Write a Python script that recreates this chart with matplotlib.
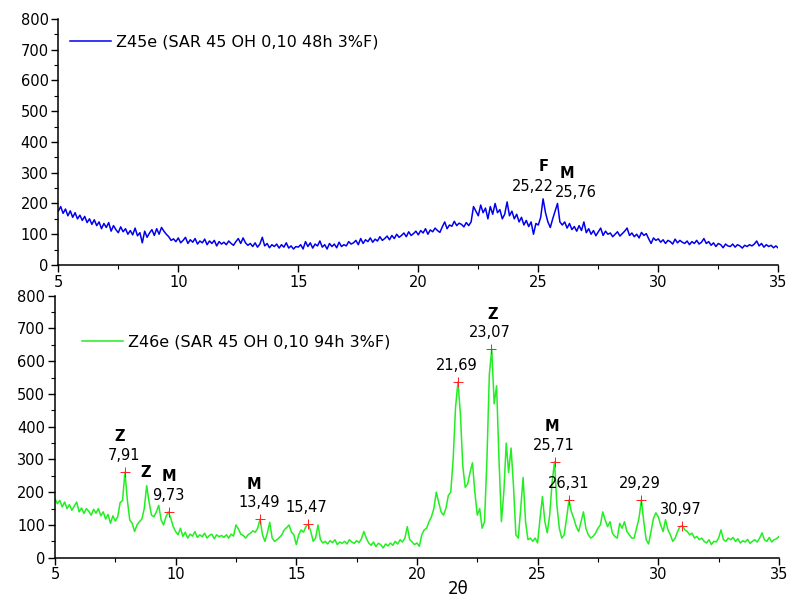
import matplotlib.pyplot as plt
import numpy as np
from matplotlib.ticker import MultipleLocator

# XRD patterns, 2theta from 5 to 35, step 0.1
two_theta = np.round(np.linspace(5, 35, 301), 1)

# Z45e (48h) - counts, one row per degree
z45e = [
    175, 190, 168, 182, 160, 176, 155, 170, 150, 162,
    145, 158, 138, 150, 132, 147, 128, 140, 118, 135,
    122, 138, 110, 128, 115, 105, 124, 108, 118, 100,
    112, 98, 120, 95, 105, 72, 110, 90, 104, 115,
    96, 118, 100, 122, 110, 100, 92, 80, 85, 76,
    88, 72, 80, 90, 70, 82, 74, 86, 68, 78,
    72, 84, 66, 78, 70, 80, 62, 76, 68, 74,
    66, 78, 70, 64, 76, 86, 70, 88, 72, 64,
    70, 60, 72, 58, 68, 90, 62, 70, 56, 66,
    60, 68, 55, 66, 58, 72, 55, 62, 52, 60,
    58, 66, 52, 76, 60, 72, 55, 68, 62, 78,
    58, 66, 52, 70, 60, 68, 56, 74, 60, 66,
    62, 76, 68, 72, 80, 66, 86, 70, 82, 76,
    88, 74, 84, 78, 92, 80, 86, 94, 82, 96,
    86, 100, 90, 96, 104, 92, 108, 96, 102, 110,
    98, 112, 104, 118, 100, 114, 108, 120, 112, 106,
    124, 140, 118, 130, 126, 142, 128, 136, 132, 124,
    138, 128, 140, 190, 175, 160, 195, 170, 185, 150,
    190, 165, 200, 170, 180, 150, 165, 205, 160, 175,
    150, 165, 140, 155, 130, 145, 125, 140, 100, 135,
    130, 155, 215, 170, 140, 122, 150, 175, 200, 140,
    130, 140, 120, 135, 115, 125, 110, 128, 112, 140,
    105, 118, 100, 112, 95, 108, 120, 96, 110, 100,
    104, 92, 100, 108, 94, 102, 110, 120, 96, 104,
    92, 100, 88, 106, 96, 102, 85, 70, 88, 80,
    85, 74, 82, 70, 80, 76, 68, 84, 72, 80,
    74, 70, 78, 66, 76, 70, 80, 68, 74, 86,
    70, 76, 64, 72, 60, 70, 66, 56, 68, 62,
    60, 68, 58, 66, 62, 55, 64, 60, 66, 62,
    68, 78, 62, 70, 58, 66, 60, 64, 56, 62,
    55,
]

# Z46e (94h) - counts, one row per degree
z46e = [
    180, 165, 175, 155, 170, 150, 162, 145, 158, 170,
    140, 152, 135, 150, 142, 130, 148, 136, 150, 128,
    140, 118, 132, 105, 128, 112, 125, 168, 175, 262,
    175, 115, 105, 80, 100, 110, 118, 150, 220, 170,
    130, 125, 140, 160, 115, 100, 125, 140, 120, 95,
    80, 70, 90, 65, 78, 60, 72, 66, 80, 62,
    70, 64, 75, 60, 68, 72, 58, 70, 64, 68,
    62, 70, 60, 72, 66, 100, 88, 72, 68, 60,
    70, 75, 82, 78, 90, 118, 70, 50, 75, 108,
    60, 50, 55, 62, 70, 85, 92, 100, 78, 70,
    40, 70, 85, 78, 95, 102, 80, 50, 60, 100,
    55, 45, 50, 42, 52, 46, 55, 40, 48, 44,
    50, 42, 55, 48, 44, 52, 46, 58, 80, 60,
    45, 38, 48, 34, 44, 40, 30, 42, 36, 45,
    38, 50, 42, 55, 48, 60, 95, 55, 48, 40,
    45, 35, 70, 85, 90, 110, 125, 150, 200, 170,
    140, 130, 150, 190, 200, 300, 460, 537, 440, 280,
    215, 225, 260, 290, 200, 130, 150, 90, 110, 300,
    560, 637, 470, 525, 300, 110, 200, 350, 260, 335,
    220, 70, 60, 150, 245, 110, 55, 60, 50, 60,
    45, 120, 187, 110, 76, 130, 230, 293, 160, 90,
    60, 70, 120, 177, 140, 120, 95, 80, 110, 140,
    90, 70, 60, 65, 75, 90, 100, 140, 115, 95,
    110, 75, 65, 60, 105, 90, 110, 80, 70, 60,
    60, 90, 120, 177, 110, 55, 42, 80, 120, 137,
    125, 100, 80, 116, 85, 70, 50, 60, 80, 95,
    98, 85, 80, 70, 75, 60, 65, 55, 60, 50,
    45, 55, 40, 50, 48, 60, 85, 55, 50, 60,
    55, 62, 50, 58, 45, 52, 48, 56, 44, 50,
    55, 48, 60, 76, 55, 50, 62, 48, 55, 58,
    65,
]

# marked peaks on Z46e
peak_pos = [7.91, 9.73, 13.49, 15.47, 21.69, 23.07, 25.71, 26.31, 29.29, 30.97]
peak_int = [262, 140, 118, 102, 537, 637, 293, 177, 177, 98]
peak_phase = ['Z', 'M', 'M', '', '', 'Z', 'M', '', '', '']

plt.rcParams['font.family'] = 'DejaVu Sans'

fig = plt.figure(figsize=(7.92, 6.01), dpi=100)
ax1 = fig.add_axes([0.0736, 0.5591, 0.9091, 0.4093])
ax2 = fig.add_axes([0.0694, 0.0720, 0.9141, 0.4359])

ax1.plot(two_theta, z45e, color='#0000ee', lw=1.1, label='Z45e (SAR 45 OH 0,10 48h 3%F)')
ax2.plot(two_theta, z46e, color='#22ee22', lw=1.1, label='Z46e (SAR 45 OH 0,10 94h 3%F)')
ax2.plot(peak_pos, peak_int, '+', color='#ff2020', ms=7, mew=0.7)

for ax in (ax1, ax2):
    ax.set_xlim(5, 35)
    ax.set_ylim(0, 800)
    ax.xaxis.set_major_locator(MultipleLocator(5))
    ax.xaxis.set_minor_locator(MultipleLocator(2.5))
    ax.yaxis.set_major_locator(MultipleLocator(100))
    ax.yaxis.set_minor_locator(MultipleLocator(50))
    ax.spines['top'].set_visible(False)
    ax.spines['right'].set_visible(False)
    ax.spines['left'].set_linewidth(1.1)
    ax.spines['bottom'].set_linewidth(1.1)
    ax.tick_params(which='major', direction='out', length=5, width=1, labelsize=10.5, pad=2)
    ax.tick_params(which='minor', direction='out', length=3, width=0.8)
    ax.set_facecolor('none')

ax1.legend(loc='center left', bbox_to_anchor=(0.016, 0.906), frameon=False,
           handlelength=2.6, handletextpad=0.3, borderpad=0, borderaxespad=0, fontsize=11.5)
ax2.legend(loc='center left', bbox_to_anchor=(0.037, 0.825), frameon=False,
           handlelength=2.6, handletextpad=0.3, borderpad=0, borderaxespad=0, fontsize=11.5)

# top panel labels
ax1.text(25.21, 320, 'F', ha='center', va='center', fontsize=10.5, fontweight='bold')
ax1.text(24.79, 255, '25,22', ha='center', va='center', fontsize=10.5)
ax1.text(26.18, 298, 'M', ha='center', va='center', fontsize=10.5, fontweight='bold')
ax1.text(26.57, 235, '25,76', ha='center', va='center', fontsize=10.5)

# bottom panel labels
letter_dx = {7.91: -0.22, 9.73: 0.0, 13.49: -0.24, 23.07: 0.07, 25.71: -0.13}
for p, h, ph in zip(peak_pos, peak_int, peak_phase):
    ax2.text(p - 0.04, h + 50, f'{p:.2f}'.replace('.', ','), ha='center', va='center', fontsize=10.5)
    if ph:
        ax2.text(p + letter_dx[p], h + 107, ph, ha='center', va='center',
                 fontsize=10.5, fontweight='bold')
ax2.text(8.77, 260, 'Z', ha='center', va='center', fontsize=10.5, fontweight='bold')

ax2.set_xlabel('2θ', fontsize=12, labelpad=0)
ax2.xaxis.set_label_coords(0.557, -0.085)

fig.savefig('out.png', dpi=100, facecolor='white')
